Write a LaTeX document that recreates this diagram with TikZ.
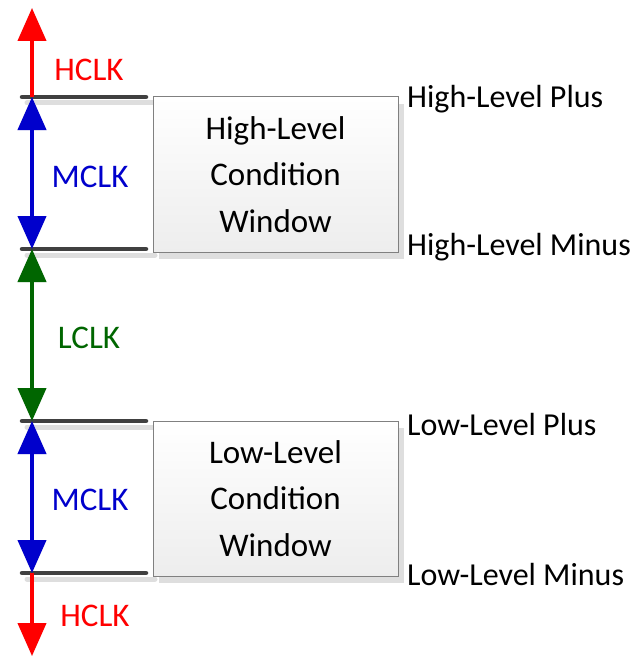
\documentclass[tikz,border=0pt]{standalone}
\usepackage{fontspec}
\setmainfont{Carlito}
\usetikzlibrary{arrows.meta,shadows}
\definecolor{hred}{RGB}{255,0,0}
\definecolor{mblue}{RGB}{0,0,204}
\definecolor{lgreen}{RGB}{0,102,0}
\definecolor{lvl}{RGB}{64,64,64}
\definecolor{shd}{RGB}{222,222,222}
\definecolor{boxedge}{RGB}{128,128,128}
\begin{document}
\begin{tikzpicture}[x=1pt,y=-1pt,
  lvline/.style={line width=4.5pt, lvl, line cap=round},
  lvshadow/.style={line width=5pt, shd, line cap=round},
  tip/.tip={Triangle[width=28pt,length=33pt]},
  clk/.style={line width=4pt, -tip},
  clkboth/.style={line width=4pt, tip-tip},
  shadowed/.style={shd, shift={(5,3)}},
  lbl/.style={font=\fontsize{33}{40}\selectfont, inner sep=0pt},
  side/.style={font=\fontsize{32}{40}\selectfont, inner sep=0pt, anchor=base west},
  win/.style={draw=boxedge, line width=1pt, top color=white, bottom color=black!7,
    minimum width=245pt, minimum height=155pt, align=center, inner sep=0pt,
    font=\fontsize{33}{46.5}\selectfont,
    drop shadow={shadow xshift=6pt, shadow yshift=-7pt, fill=shd, opacity=1}}
]
\useasboundingbox (0,0) rectangle (635,658);
% level lines coordinates
\coordinate (a1) at (22,97);  \coordinate (b1) at (146,97);
\coordinate (a2) at (22,249); \coordinate (b2) at (146,249);
\coordinate (a3) at (22,421); \coordinate (b3) at (146,421);
\coordinate (a4) at (22,573); \coordinate (b4) at (146,573);
\coordinate (t1) at (32,97);  \coordinate (t2) at (32,249);
\coordinate (t3) at (32,421); \coordinate (t4) at (32,573);
\coordinate (top) at (32,8);  \coordinate (bot) at (32,656);
% shadows of level lines
\foreach \i in {1,2,3,4} {
  \draw[lvshadow] ([shift={(5,6)}]a\i) -- ([shift={(9,6)}]b\i);
}
% shadows of arrows
\draw[clk,shadowed] (t1) -- (top);
\draw[clkboth,shadowed] (t1) -- (t2);
\draw[clkboth,shadowed] (t2) -- (t3);
\draw[clkboth,shadowed] (t3) -- (t4);
\draw[clk,shadowed] (t4) -- (bot);
% windows
\node[win] (hw) at (275.5,174.5) {High-Level\\Condition\\Window};
\node[win] (lw) at (275.5,498.5) {Low-Level\\Condition\\Window};
% level lines
\draw[lvline] (a1) -- (b1);
\draw[lvline] (a2) -- (b2);
\draw[lvline] (a3) -- (b3);
\draw[lvline] (a4) -- (b4);
% arrows
\draw[clk,hred] (t1) -- (top);
\draw[clkboth,mblue] (t1) -- (t2);
\draw[clkboth,lgreen] (t2) -- (t3);
\draw[clkboth,mblue] (t3) -- (t4);
\draw[clk,hred] (t4) -- (bot);
% clock labels
\node[lbl,hred] (h1) at (89,70) {HCLK};
\node[lbl,mblue] (m1) at (90,177) {MCLK};
\node[lbl,lgreen] (lc) at (89,338) {LCLK};
\node[lbl,mblue] (m2) at (90,500) {MCLK};
\node[lbl,hred] (h2) at (95,616) {HCLK};
% side labels
\node[side] (hp) at (407,108) {High-Level Plus};
\node[side] (hm) at (407,255) {High-Level Minus};
\node[side] (lp) at (407,435) {Low-Level Plus};
\node[side] (lm) at (407,585) {Low-Level Minus};
\end{tikzpicture}
\end{document}
